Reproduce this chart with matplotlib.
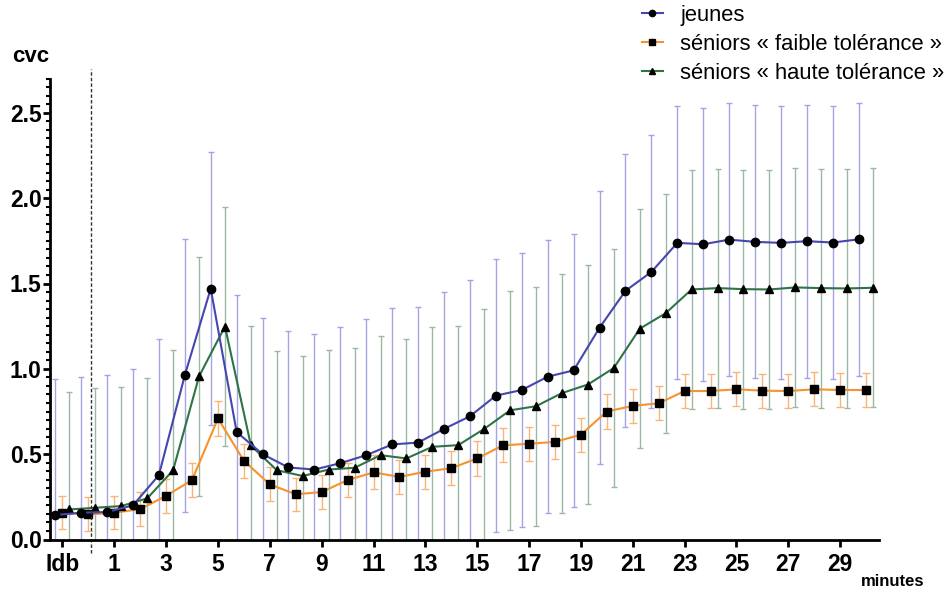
import matplotlib
matplotlib.use("Agg")
import matplotlib.pyplot as plt
from matplotlib.ticker import MultipleLocator, FixedLocator
import numpy as np

plt.rcParams['font.family'] = ['Liberation Sans', 'DejaVu Sans']

# time points: -1 is the baseline ("Idb"), then minutes 0..30
minutes = list(range(-1, 31))
tick_positions = [-1, 1, 3, 5, 7, 9, 11, 13, 15, 17, 19, 21, 23, 25, 27, 29]
tick_labels = ["Idb", "1", "3", "5", "7", "9", "11", "13", "15", "17", "19",
               "21", "23", "25", "27", "29"]

jeunes_mean = [0.143, 0.157, 0.161, 0.200, 0.377, 0.962, 1.470, 0.630, 0.500,
               0.422, 0.410, 0.447, 0.494, 0.557, 0.568, 0.648, 0.722, 0.843,
               0.876, 0.954, 0.991, 1.241, 1.457, 1.568, 1.738, 1.730, 1.757,
               1.744, 1.738, 1.748, 1.740, 1.759]
jeunes_sd = [0.80, 0.795, 0.80, 0.80, 0.80, 0.80, 0.80, 0.80, 0.797, 0.797,
             0.796, 0.798, 0.80, 0.80, 0.797, 0.80, 0.80, 0.80, 0.80, 0.80,
             0.80, 0.80, 0.80, 0.80, 0.80, 0.80, 0.80, 0.80, 0.80, 0.80,
             0.80, 0.80]

faible_mean = [0.157, 0.147, 0.157, 0.178, 0.256, 0.348, 0.709, 0.461, 0.323,
               0.265, 0.278, 0.348, 0.393, 0.367, 0.397, 0.418, 0.475, 0.552,
               0.561, 0.572, 0.614, 0.750, 0.783, 0.798, 0.870, 0.870, 0.880,
               0.872, 0.870, 0.880, 0.876, 0.876]
faible_sd = [0.097, 0.10, 0.097, 0.098, 0.10, 0.098, 0.10, 0.10, 0.10, 0.098,
             0.10, 0.098, 0.10, 0.10, 0.10, 0.10, 0.10, 0.10, 0.10, 0.10,
             0.10, 0.10, 0.10, 0.10, 0.10, 0.10, 0.10, 0.10, 0.10, 0.10,
             0.10, 0.10]

haute_mean = [0.176, 0.186, 0.196, 0.241, 0.406, 0.956, 1.248, 0.551, 0.406,
              0.372, 0.410, 0.420, 0.494, 0.475, 0.543, 0.553, 0.648, 0.757,
              0.781, 0.858, 0.908, 1.005, 1.235, 1.326, 1.465, 1.473, 1.467,
              1.465, 1.477, 1.473, 1.471, 1.475]
haute_sd = [0.69, 0.70, 0.70, 0.707, 0.706, 0.70, 0.70, 0.70, 0.70, 0.703,
            0.70, 0.70, 0.70, 0.70, 0.70, 0.70, 0.70, 0.70, 0.70, 0.70,
            0.70, 0.70, 0.70, 0.70, 0.70, 0.70, 0.70, 0.70, 0.70, 0.70,
            0.70, 0.70]

labels = ["jeunes", "séniors « faible tolérance »", "séniors « haute tolérance »"]

fig = plt.figure(figsize=(9.46, 5.92), dpi=100)
ax = fig.add_axes([50 / 946, 52.5 / 592, 829 / 946, 460.8 / 592])

x = np.array(minutes, dtype=float)

series = [
    # (mean, sd, x shift, line colour, bar colour, marker, size, capsize)
    (faible_mean, faible_sd, 0.0, "#f7922c", "#f9b47c", "s", 6.0, 3.0),
    (haute_mean, haute_sd, 0.27, "#2f7443", "#9cb8a2", "^", 6.0, 2.2),
    (jeunes_mean, jeunes_sd, -0.28, "#4646b0", "#a4a4e2", "o", 6.0, 2.2),
]

handles = {}
for i, (mean, sd, dx, lc, bc, mk, ms, cs) in enumerate(series):
    xs = x + dx
    ax.errorbar(xs, mean, yerr=sd, fmt="none", ecolor=bc, elinewidth=1.0,
                capsize=cs, capthick=1.0, zorder=2 + i * 0.1)
for i, (mean, sd, dx, lc, bc, mk, ms, cs) in enumerate(series):
    xs = x + dx
    ln, = ax.plot(xs, mean, color=lc, lw=1.5, marker=mk, ms=ms,
                  mfc="black", mec="black", zorder=4 + i * 0.1)
    handles[mk] = ln

ax.set_xlim(-1.48, 30.5)
ax.set_ylim(0, 2.7)

for side in ("top", "right"):
    ax.spines[side].set_visible(False)
for side in ("left", "bottom"):
    ax.spines[side].set_linewidth(2.0)
    ax.spines[side].set_zorder(6)

ax.xaxis.set_major_locator(FixedLocator(tick_positions))
ax.set_xticklabels(tick_labels)
ax.yaxis.set_major_locator(MultipleLocator(0.5))
ax.yaxis.set_minor_locator(MultipleLocator(0.05))
ax.yaxis.set_major_formatter(matplotlib.ticker.FormatStrFormatter("%.1f"))

ax.tick_params(axis="x", which="major", length=5, width=2.0, pad=4.5,
               labelsize=16.5)
ax.tick_params(axis="y", which="major", length=5, width=2.0, pad=1,
               labelsize=16.5)
ax.tick_params(axis="y", which="minor", length=3, width=1.5)
for lab in ax.get_xticklabels() + ax.get_yticklabels():
    lab.set_fontweight("bold")

# separation between baseline and recording
ax.plot([0.12, 0.12], [-0.079, 2.757], color="#333333", lw=1.0,
        ls=(0, (2.5, 1.5)), clip_on=False, zorder=5)

fig.text(12 / 946, 1 - 62 / 592, "cvc", fontsize=16, fontweight="bold",
         ha="left", va="baseline")
fig.text(924 / 946, 1 - 586 / 592, "minutes", fontsize=12, fontweight="bold",
         ha="right", va="baseline")

fig.legend([handles["o"], handles["s"], handles["^"]], labels,
           loc="upper left", bbox_to_anchor=(642 / 946, 1 - 5 / 592),
           frameon=False, fontsize=15.8, handlelength=0.95,
           handletextpad=0.8, labelspacing=0.36, borderpad=0,
           borderaxespad=0, markerscale=0.75)

fig.savefig("out.png", dpi=100)
